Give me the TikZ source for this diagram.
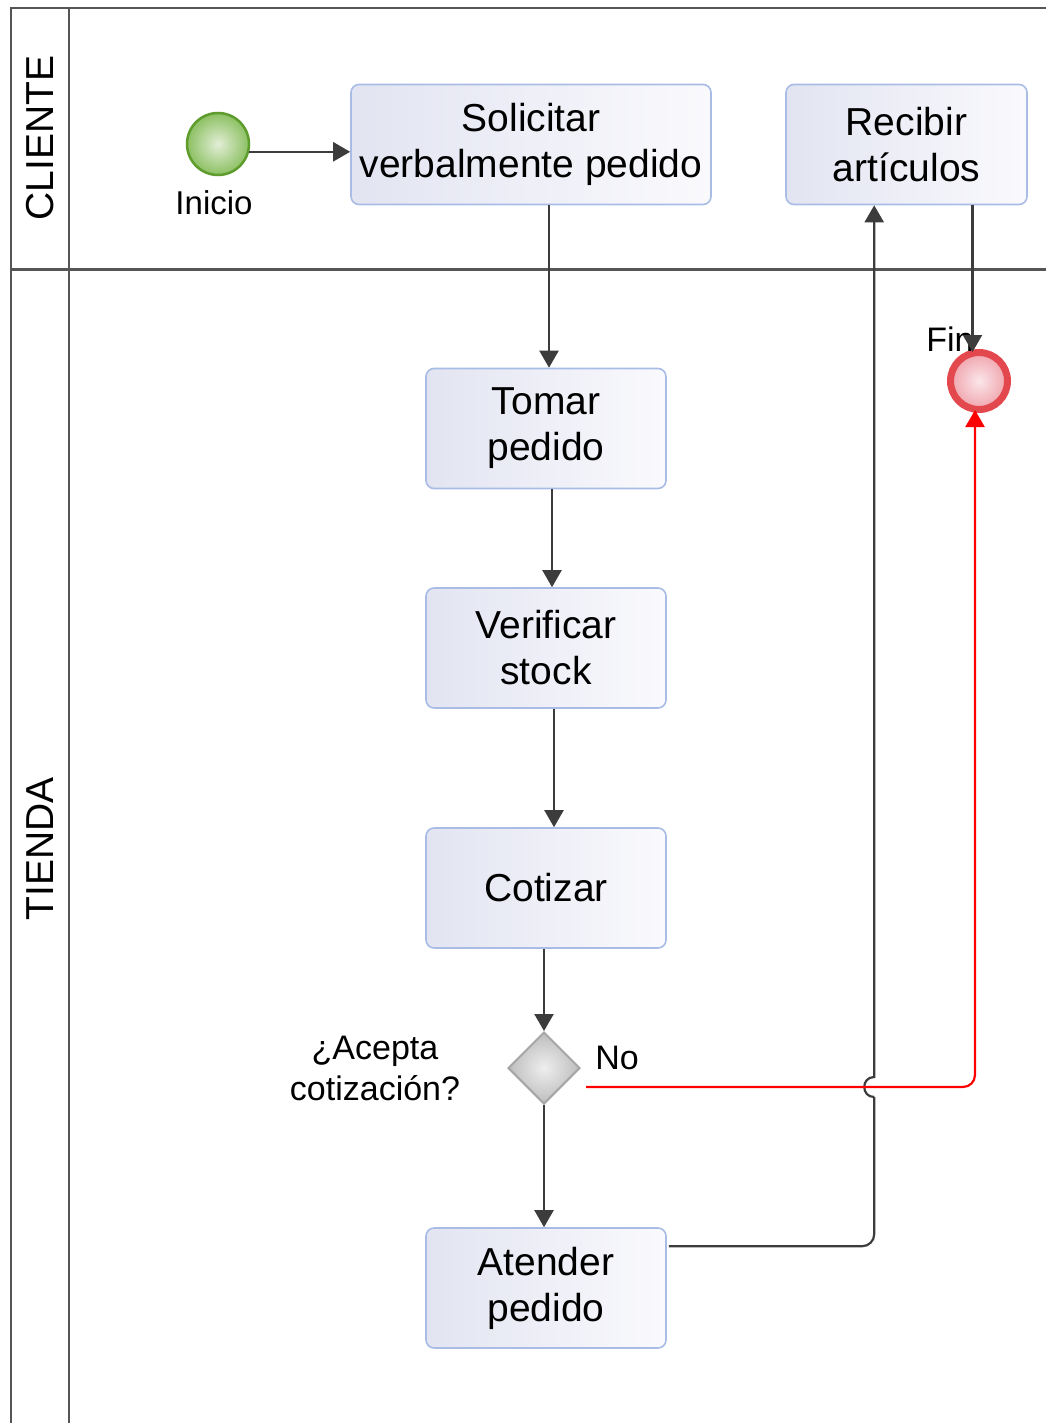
\documentclass[tikz,border=0pt]{standalone}
\usepackage{fontspec}
\setmainfont{Liberation Sans}
\usetikzlibrary{arrows.meta,calc,shapes.geometric}

\definecolor{laneline}{HTML}{555555}
\definecolor{flowgray}{HTML}{3C3C3C}
\definecolor{taskedge}{HTML}{A9BCE6}
\definecolor{taskleft}{HTML}{E2E4F1}
\definecolor{taskright}{HTML}{FAFAFD}
\definecolor{startedge}{HTML}{5E9C2E}
\definecolor{startin}{HTML}{E2EED6}
\definecolor{startout}{HTML}{8CC062}
\definecolor{endedge}{HTML}{E2484E}
\definecolor{endin}{HTML}{FAE6EA}
\definecolor{endout}{HTML}{F0A4AC}
\definecolor{gwedge}{HTML}{A6A6A6}
\definecolor{gwin}{HTML}{EEEEEE}
\definecolor{gwout}{HTML}{BDBDBD}
\definecolor{nored}{HTML}{FF0000}

\begin{document}
\begin{tikzpicture}[x=1pt,y=-1pt,
  lane/.style={draw=laneline, line width=2.2pt},
  task/.style={draw=taskedge, line width=1.6pt, rounded corners=8pt,
    left color=taskleft, right color=taskright,
    minimum width=240pt, minimum height=120pt, inner sep=0pt,
    align=center, font=\fontsize{39}{46}\selectfont},
  lbl/.style={inner sep=0pt, align=center, font=\fontsize{34}{41}\selectfont},
  flow/.style={draw=flowgray, line width=2.2pt, -{Triangle[length=17pt,width=19pt]}},
  plain/.style={draw=flowgray, line width=2.2pt},
  noflow/.style={draw=nored, line width=2.2pt, -{Triangle[length=17pt,width=19pt]}}
]
\useasboundingbox (0,0) rectangle (1045,1423);

% pool and lanes
\draw[lane] (11,1430) -- (11,8) -- (1050,8);
\draw[lane] (69,8) -- (69,1430);
\draw[lane, line width=3pt] (11,269) -- (1050,269);
\node[rotate=90, inner sep=0pt, font=\fontsize{39}{46}\selectfont] (lcli) at (40,138) {CLIENTE};
\node[rotate=90, inner sep=0pt, font=\fontsize{39}{46}\selectfont] (ltie) at (40,849) {TIENDA};

% activities
\node[task, minimum width=360pt] (sol) at (531,144.5) {Solicitar\\verbalmente pedido};
\node[task, minimum width=241pt] (rec) at (906.5,144.5) {Recibir\\artículos};
\node[task] (tom) at (546,428.5) {Tomar\\pedido};
\node[task] (ver) at (546,648) {Verificar\\stock};
\node[task] (cot) at (546,888) {Cotizar};
\node[task] (atd) at (546,1288) {Atender\\pedido};

% events and gateway
\node[circle, minimum size=62pt, inner sep=0pt, draw=startedge, line width=2.5pt,
  inner color=startin, outer color=startout] (start) at (218,144) {};
\node[lbl, font=\fontsize{33}{40}\selectfont] (inicio) at (214,203) {Inicio};

\node[circle, minimum size=57pt, inner sep=0pt, draw=endedge, line width=7pt,
  inner color=endin, outer color=endout] (fin) at (979,381) {};
\node[lbl] (finlbl) at (950,339) {Fin};

\node[diamond, minimum width=72pt, minimum height=72pt, inner sep=0pt,
  draw=gwedge, line width=2pt, inner color=gwin, outer color=gwout] (gw) at (544,1068) {};
\node[lbl] (gwlbl) at (375,1068) {¿Acepta\\cotización?};
\node[lbl] (nolbl) at (617,1058) {No};

% sequence flows
\draw[flow] (start.-14.5) -- (start.-14.5 -| sol.west);
\draw[flow] ($(sol.south)+(18,0)$) -- ($(tom.north)+(3,0)$);
\draw[flow] ($(tom.south)+(6,0)$) -- ($(ver.north)+(6,0)$);
\draw[flow] ($(ver.south)+(8,0)$) -- ($(cot.north)+(8,0)$);
\draw[flow] (cot.south -| gw.north) -- (gw.north);
\draw[flow] (gw.south) -- (gw.south |- atd.north);

% Atender pedido -> Recibir articulos, hopping over the "No" branch
\coordinate (a1) at ($(atd.north east)+(2,19)$);
\coordinate (hx) at ($(rec.south west)+(89,0)$);
\coordinate (hopb) at ($(hx |- gw.center)+(0,29)$);
\coordinate (hopt) at ($(hx |- gw.center)+(0,9)$);
\draw[plain, rounded corners=12pt] (a1) -- (a1 -| hx) -- (hopb);
\draw[flow] (hopb) .. controls +(-13.3,0) and +(-13.3,0) .. (hopt) -- (hx |- rec.south);

% "No" branch to the end event
\coordinate (r0) at ($(gw.east)+(5,19)$);
\draw[noflow, rounded corners=12pt] (r0) -| ($(fin.south)+(-4,-3)$);

% Recibir articulos -> Fin
\coordinate (rf) at ($(rec.south)+(66,0)$);
\draw[flow] (rf) -- ($(rf |- fin.north)+(0,3)$);
\end{tikzpicture}
\end{document}
